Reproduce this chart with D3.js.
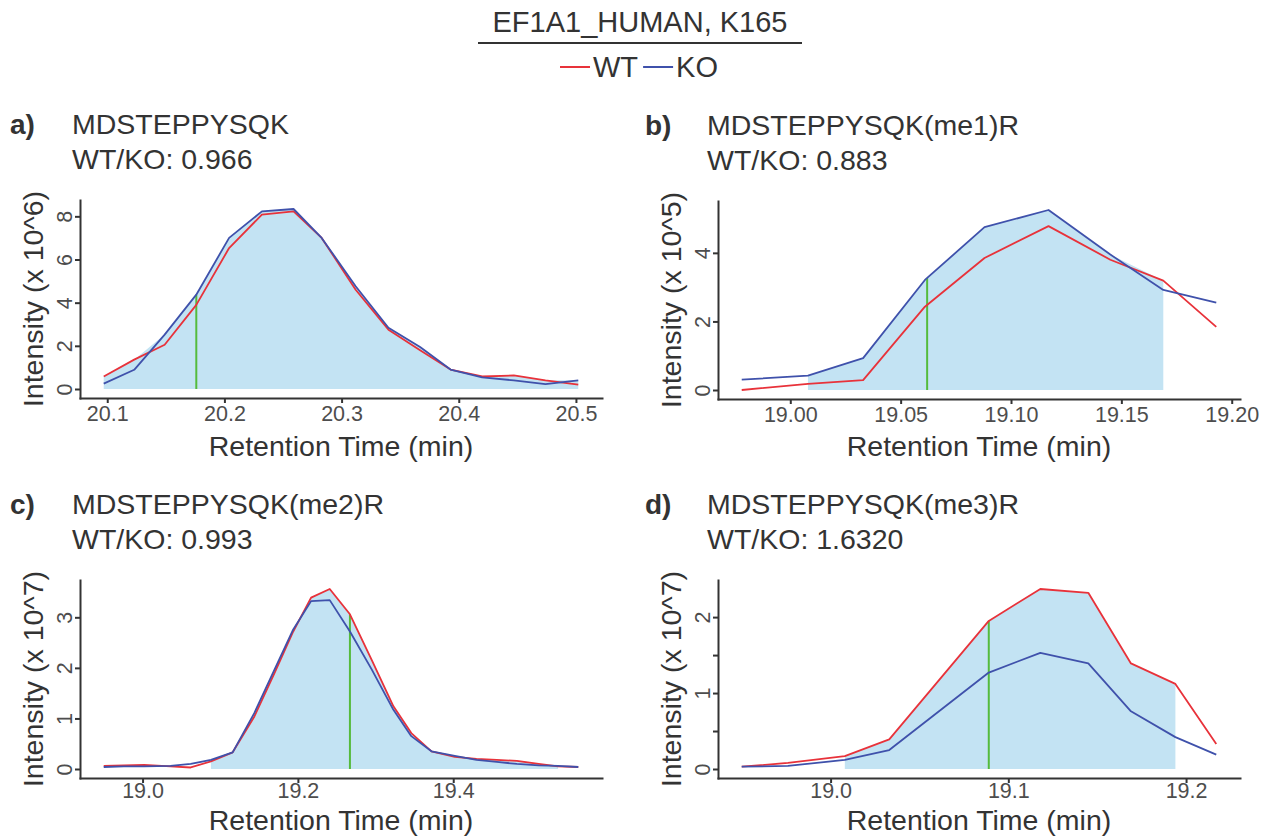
<!DOCTYPE html>
<html lang="en">
<head>
<meta charset="UTF-8">
<script src="https://cdn.jsdelivr.net/npm/d3@7"></script>
<title>EF1A1_HUMAN, K165</title>
<style>
    body { margin: 0; background: #fff; }
    text { font-family: "Liberation Sans", Arial, Helvetica, sans-serif; fill: #333; }
    .axis path, .axis line { stroke: #333; stroke-width: 2; }
    .axis text { font-size: 21.5px; fill: #4d4d4d; font-family: "Liberation Sans", Arial, sans-serif; }
</style>
</head>
<body>
<script>
// ---- data ----
const seriesNames = ["WT", "KO"]

const timeA = [20.097, 20.123, 20.149, 20.176, 20.204, 20.232, 20.259, 20.283, 20.312, 20.340, 20.367, 20.393, 20.420, 20.447, 20.474, 20.502]
const wtA   = [0.58, 1.36, 2.05, 3.9, 6.53, 8.08, 8.23, 7.0, 4.6, 2.75, 1.8, 0.9, 0.58, 0.63, 0.4, 0.2]
const koA   = [0.25, 0.89, 2.52, 4.37, 7.0, 8.23, 8.34, 7.0, 4.76, 2.84, 1.95, 0.9, 0.54, 0.4, 0.23, 0.4]

const timeB = [18.978, 19.008, 19.033, 19.061, 19.088, 19.117, 19.145, 19.169, 19.193]
const wtB   = [0.0, 0.18, 0.29, 2.43, 3.85, 4.78, 3.8, 3.19, 1.84]
const koB   = [0.30, 0.42, 0.93, 3.21, 4.75, 5.25, 3.95, 2.92, 2.55]

const timeC = [18.950, 18.976, 19.002, 19.036, 19.062, 19.088, 19.116, 19.144, 19.170, 19.194, 19.217, 19.241, 19.267, 19.295, 19.323, 19.346, 19.372, 19.402, 19.430, 19.456, 19.482, 19.510, 19.535, 19.561]
const wtC   = [0.06, 0.07, 0.08, 0.05, 0.03, 0.15, 0.33, 1.04, 1.90, 2.72, 3.39, 3.56, 3.06, 2.16, 1.24, 0.71, 0.35, 0.24, 0.20, 0.18, 0.16, 0.10, 0.05, 0.04]
const koC   = [0.04, 0.05, 0.05, 0.06, 0.10, 0.18, 0.33, 1.11, 1.97, 2.76, 3.32, 3.34, 2.72, 1.97, 1.17, 0.65, 0.35, 0.26, 0.18, 0.14, 0.10, 0.07, 0.06, 0.04]

const timeD = [18.950, 18.976, 19.008, 19.033, 19.061, 19.089, 19.118, 19.145, 19.169, 19.194, 19.217]
const wtD   = [0.03, 0.08, 0.17, 0.39, 1.17, 1.95, 2.37, 2.32, 1.39, 1.12, 0.33]
const koD   = [0.03, 0.04, 0.12, 0.25, 0.76, 1.27, 1.53, 1.39, 0.76, 0.42, 0.19]

const peptides = ["MDSTEPPYSQK", "MDSTEPPYSQK(me1)R", "MDSTEPPYSQK(me2)R", "MDSTEPPYSQK(me3)R"]
const ratios = ["0.966", "0.883", "0.993", "1.6320"]
const panelTags = ["a)", "b)", "c)", "d)"]
const exponents = [6, 5, 7, 7]
const apexTimes = [20.176, 19.062, 19.267, 19.089]
const fillStart = [20.097, 19.008, 19.088, 19.008]
const fillEnd   = [20.502, 19.169, 19.535, 19.194]

const xTicksA = [20.1, 20.2, 20.3, 20.4, 20.5]
const xTicksB = [19.00, 19.05, 19.10, 19.15, 19.20]
const xTicksC = [19.0, 19.2, 19.4]
const xTicksD = [19.0, 19.1, 19.2]
const yTicksA = [0, 2, 4, 6, 8]
const yTicksB = [0, 2, 4]
const yTicksC = [0, 1, 2, 3]
const yTicksD = [0, 0.5, 1, 1.5, 2]

const colors = { WT: "#e8323a", KO: "#3f51ab", fill: "#c3e3f3", apex: "#55bb3c" }

const panels = [
    { time: timeA, wt: wtA, ko: koA, xt: xTicksA, yt: yTicksA, xf: ".1f", left: 80,  top: 200, pad: 3, xTitleY: 456, col: 0 },
    { time: timeB, wt: wtB, ko: koB, xt: xTicksB, yt: yTicksB, xf: ".2f", left: 718, top: 201, pad: 3, xTitleY: 456, col: 1 },
    { time: timeC, wt: wtC, ko: koC, xt: xTicksC, yt: yTicksC, xf: ".1f", left: 80,  top: 580, pad: 0, xTitleY: 830, col: 0 },
    { time: timeD, wt: wtD, ko: koD, xt: xTicksD, yt: yTicksD, xf: ".1f", left: 718, top: 580, pad: 0, xTitleY: 830, col: 1 }
]
const plotW = 522, plotH = 198

const svg = d3.select("body").append("svg")
    .attr("width", 1270)
    .attr("height", 840)

// header + legend
svg.append("text").attr("x", 640).attr("y", 32)
    .attr("text-anchor", "middle").attr("font-size", "29px")
    .text("EF1A1_HUMAN, K165")
svg.append("line").attr("x1", 478).attr("x2", 802).attr("y1", 43).attr("y2", 43)
    .attr("stroke", "#333").attr("stroke-width", 2.2)

const legend = svg.append("g").attr("transform", "translate(560,0)")
let lx = 0
seriesNames.forEach(name => {
    legend.append("line").attr("x1", lx).attr("x2", lx + 30).attr("y1", 67).attr("y2", 67)
        .attr("stroke", colors[name]).attr("stroke-width", 2)
    const t = legend.append("text").attr("x", lx + 33).attr("y", 77)
        .attr("font-size", "29px").text(name)
    lx += 33 + t.node().getComputedTextLength() + 5
})

// ggplot-style 5% expansion
function expand(ext) {
    const pad = (ext[1] - ext[0]) * 0.05
    return [ext[0] - pad, ext[1] + pad]
}

function interp(time, vals, t) {
    const i = Math.max(1, Math.min(time.length - 1, d3.bisectLeft(time, t)))
    const f = (t - time[i - 1]) / (time[i] - time[i - 1])
    return vals[i - 1] + f * (vals[i] - vals[i - 1])
}

panels.forEach((p, k) => {
    const rows = p.time.map((t, i) => ({ t: t, WT: p.wt[i], KO: p.ko[i], top: Math.max(p.wt[i], p.ko[i]) }))
    const x = d3.scaleLinear().domain(expand(d3.extent(p.time))).range([p.left, p.left + plotW])
    const yMax = d3.max(rows, d => d.top)
    const y = d3.scaleLinear().domain(expand([0, yMax])).range([p.top + plotH, p.top])

    const g = svg.append("g")

    // integrated area (under the higher trace, between the boundaries)
    const topOf = t => Math.max(interp(p.time, p.wt, t), interp(p.time, p.ko, t))
    const areaPts = [{ t: fillStart[k], v: topOf(fillStart[k]) }]
        .concat(rows.filter(d => d.t > fillStart[k] && d.t < fillEnd[k]).map(d => ({ t: d.t, v: d.top })))
        .concat([{ t: fillEnd[k], v: topOf(fillEnd[k]) }])
    g.append("path").datum(areaPts)
        .attr("fill", colors.fill)
        .attr("d", d3.area().x(d => x(d.t)).y0(y(0)).y1(d => y(d.v)))

    // apex marker
    g.append("line")
        .attr("x1", x(apexTimes[k])).attr("x2", x(apexTimes[k]))
        .attr("y1", y(0)).attr("y2", y(topOf(apexTimes[k])))
        .attr("stroke", colors.apex).attr("stroke-width", 2)

    // traces
    seriesNames.forEach(name => {
        g.append("path").datum(rows)
            .attr("fill", "none")
            .attr("stroke", colors[name])
            .attr("stroke-width", 1.8)
            .attr("stroke-linejoin", "round")
            .attr("d", d3.line().x(d => x(d.t)).y(d => y(d[name])))
    })

    // axes
    const xAxis = g.append("g").attr("class", "axis")
        .attr("transform", `translate(0,${p.top + plotH})`)
        .call(d3.axisBottom(x).tickValues(p.xt).tickFormat(d3.format(p.xf)).tickSize(5).tickSizeOuter(0).tickPadding(p.pad))

    const yAxis = g.append("g").attr("class", "axis")
        .attr("transform", `translate(${p.left},0)`)
        .call(d3.axisLeft(y).tickValues(p.yt).tickFormat(d => Number.isInteger(d) ? d : "").tickSize(5).tickSizeOuter(0))
    yAxis.selectAll("text")
        .attr("transform", "rotate(-90)")
        .attr("x", 0).attr("y", -8).attr("dy", 0)
        .attr("text-anchor", "middle")
    xAxis.select(".domain").attr("stroke-linecap", "square")
    yAxis.select(".domain").attr("stroke-linecap", "square")

    // axis titles
    g.append("text")
        .attr("x", p.left + plotW / 2).attr("y", p.xTitleY)
        .attr("text-anchor", "middle").attr("font-size", "28.5px")
        .text("Retention Time (min)")
    g.append("text")
        .attr("transform", `translate(${p.left - 37},${p.top + plotH / 2}) rotate(-90)`)
        .attr("text-anchor", "middle").attr("font-size", "28.5px")
        .text(`Intensity (x 10^${exponents[k]})`)

    // panel heading
    const hx = p.col === 0 ? 10 : 645
    const hy = p.top - 66
    g.append("text").attr("x", hx).attr("y", hy)
        .attr("font-size", "28px").attr("font-weight", "bold")
        .text(panelTags[k])
    g.append("text").attr("x", hx + 62).attr("y", hy)
        .attr("font-size", "28.5px").text(peptides[k])
    g.append("text").attr("x", hx + 62).attr("y", hy + 35)
        .attr("font-size", "28.5px").text("WT/KO: " + ratios[k])
})
</script>
</body>
</html>
